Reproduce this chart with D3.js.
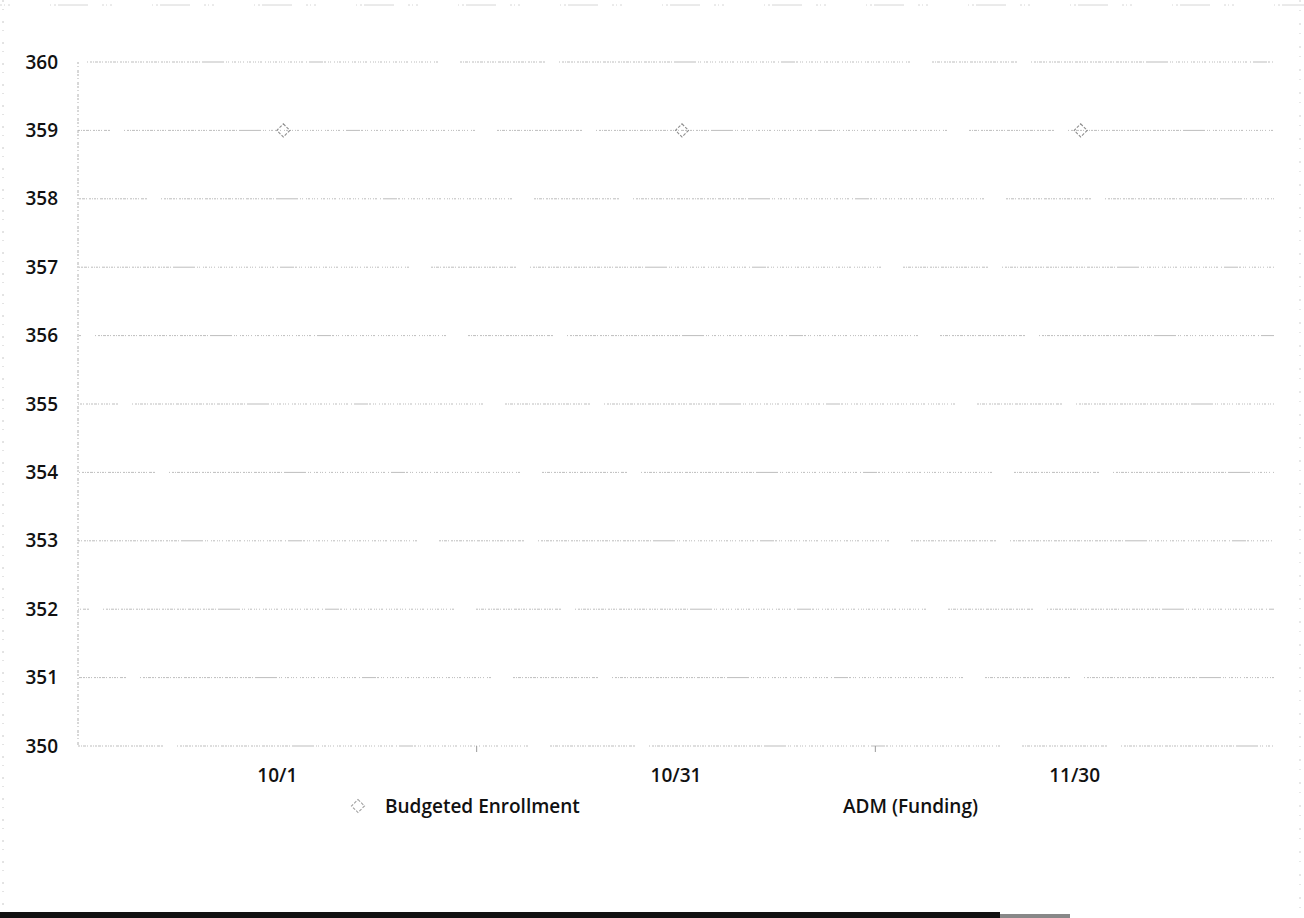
<!DOCTYPE html>
<html>
<head>
<meta charset="utf-8">
<script src="https://cdn.jsdelivr.net/npm/d3@7/dist/d3.min.js"></script>
<style>
  html, body { margin: 0; padding: 0; background: #fff; }
  svg { display: block; }
  text { font-family: "Open Sans", "Noto Sans", sans-serif; fill: #111; }
</style>
</head>
<body>
<svg id="chart" width="1304" height="918"></svg>
<script>
// Enrollment tracking data
const categories = ["10/1", "10/31", "11/30"];
const budgetedEnrollment = [359, 359, 359];
const admFunding = [null, null, null];
const yTicks = [350, 351, 352, 353, 354, 355, 356, 357, 358, 359, 360];
const seriesNames = ["Budgeted Enrollment", "ADM (Funding)"];

const W = 1304, H = 918;
const margin = { left: 78, right: 30, top: 62, bottom: 172 };
const svg = d3.select("#chart");

// Outer frame
svg.append("rect").attr("x", 0).attr("y", 0).attr("width", W).attr("height", H).attr("fill", "#fff");
svg.append("line").attr("x1", 3).attr("x2", 3).attr("y1", 0).attr("y2", H)
  .attr("stroke", "#c8c8c8").attr("stroke-dasharray", "2 7 1 11");
svg.append("line").attr("x1", W - 4).attr("x2", W - 4).attr("y1", 0).attr("y2", H)
  .attr("stroke", "#d0d0d0").attr("stroke-dasharray", "2 8 1 12");
svg.append("line").attr("x1", 0).attr("x2", W).attr("y1", 5).attr("y2", 5)
  .attr("stroke", "#d6d6d6").attr("stroke-dasharray", "2 2 1 3 2 40 1 3 2 2 30 14");
svg.append("rect").attr("x", 0).attr("y", 912).attr("width", 1000).attr("height", 6).attr("fill", "#111");
svg.append("rect").attr("x", 1000).attr("y", 914).attr("width", 70).attr("height", 4).attr("fill", "#888");

const x = d3.scaleBand()
  .domain(categories)
  .range([margin.left, W - margin.right]);

const y = d3.scaleLinear()
  .domain([350, 360])
  .range([H - margin.bottom, margin.top]);

// Horizontal gridlines: faint clusters of fine dots with gaps
const gridDash = "2 1 1 1 3 1 1 2 2 1 1 1 2 1 3 1 1 2 2 1 1 1 2 1 1 2 3 1 2 1 1 1 2 1 1 2 2 1 1 1 2 1 3 1 1 2 2 1 1 1 2 1 1 2 3 1 2 14 " +
                 "1 2 2 1 1 1 3 1 2 1 1 2 2 1 1 1 2 1 3 1 1 2 2 1 1 1 2 1 1 2 3 1 2 1 1 1 2 1 1 2 2 1 1 1 2 1 3 1 1 2 2 1 1 1 2 1 1 2 3 1 2 1 1 1 2 1 1 2 2 1 1 1 2 1 3 1 1 2 22";
svg.append("g")
  .selectAll("line")
  .data(yTicks)
  .join("line")
  .attr("x1", margin.left)
  .attr("x2", W - margin.right)
  .attr("y1", d => y(d))
  .attr("y2", d => y(d))
  .attr("stroke", "#bdbdbd")
  .attr("stroke-width", 1)
  .attr("stroke-dasharray", gridDash)
  .attr("stroke-dashoffset", (d, i) => (i * 37) % 140);

// Vertical axis line
svg.append("line")
  .attr("x1", margin.left).attr("x2", margin.left)
  .attr("y1", y(360)).attr("y2", y(350))
  .attr("stroke", "#b0b0b0").attr("stroke-dasharray", "2 2 1 3 3 1");

// Y axis labels
const yAxis = d3.axisLeft(y).tickValues(yTicks).tickSize(0).tickPadding(20).tickFormat(d3.format("d"));
const gy = svg.append("g").attr("transform", `translate(${margin.left},0)`).call(yAxis);
gy.select(".domain").remove();
gy.selectAll("text").attr("font-size", 19).attr("font-weight", 600)
  .attr("font-family", "'Open Sans', sans-serif").attr("fill", "#111");

// X axis labels and category boundary ticks
const xAxis = d3.axisBottom(x).tickSize(0).tickPadding(23);
const gx = svg.append("g").attr("transform", `translate(0,${y(350)})`).call(xAxis);
gx.select(".domain").remove();
gx.selectAll("text").attr("font-size", 19).attr("font-weight", 600)
  .attr("font-family", "'Open Sans', sans-serif").attr("fill", "#111");
svg.append("g")
  .selectAll("line")
  .data(categories.slice(1))
  .join("line")
  .attr("x1", d => x(d)).attr("x2", d => x(d))
  .attr("y1", y(350)).attr("y2", y(350) + 6)
  .attr("stroke", "#999");

// Square diamond marker (square rotated 45 degrees)
const squareDiamond = {
  draw(ctx, size) {
    const r = Math.sqrt(size) / 2;
    ctx.moveTo(0, -r); ctx.lineTo(r, 0); ctx.lineTo(0, r); ctx.lineTo(-r, 0); ctx.closePath();
  }
};
const diamond = d3.symbol().type(squareDiamond).size(170);

// Budgeted Enrollment markers
svg.append("g")
  .selectAll("path")
  .data(categories.map((c, i) => ({ c, v: budgetedEnrollment[i] })).filter(d => d.v != null))
  .join("path")
  .attr("d", diamond)
  .attr("transform", d => `translate(${x(d.c) + x.bandwidth() / 2 + 6},${y(d.v)})`)
  .attr("fill", "none")
  .attr("stroke", "#8f8f8f")
  .attr("stroke-width", 1.1)
  .attr("stroke-dasharray", "3 1.5");

// ADM (Funding) line (no reported values)
const line = d3.line()
  .defined(d => d.v != null)
  .x(d => x(d.c) + x.bandwidth() / 2)
  .y(d => y(d.v));
svg.append("path")
  .datum(categories.map((c, i) => ({ c, v: admFunding[i] })))
  .attr("d", line)
  .attr("fill", "none")
  .attr("stroke", "#555");

// Legend
const legend = svg.append("g").attr("transform", "translate(0,806)");
legend.append("path")
  .attr("d", diamond)
  .attr("transform", "translate(358,0)")
  .attr("fill", "none")
  .attr("stroke", "#a0a0a0")
  .attr("stroke-width", 1.1)
  .attr("stroke-dasharray", "3 1.5");
legend.append("text").attr("x", 385).attr("y", 0).attr("dy", "0.35em")
  .attr("font-size", 19).attr("font-weight", 600).text(seriesNames[0]);
legend.append("text").attr("x", 843).attr("y", 0).attr("dy", "0.35em")
  .attr("font-size", 19).attr("font-weight", 600).text(seriesNames[1]);
</script>
</body>
</html>
